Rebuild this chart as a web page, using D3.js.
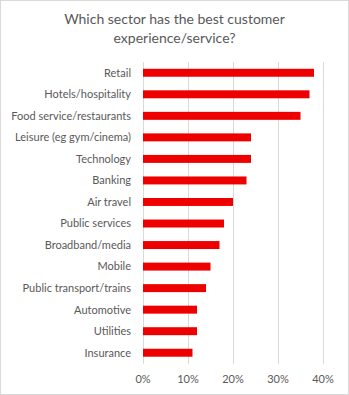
<!DOCTYPE html>
<html><head><meta charset="utf-8">
<script src="https://cdn.jsdelivr.net/npm/d3@7"></script>
<style>body{margin:0;background:#fff}svg{display:block}</style>
</head><body>
<script>
const categories = ["Retail","Hotels/hospitality","Food service/restaurants","Leisure (eg gym/cinema)","Technology","Banking","Air travel","Public services","Broadband/media","Mobile","Public transport/trains","Automotive","Utilities","Insurance"];
const values = [0.38,0.37,0.35,0.24,0.24,0.23,0.20,0.18,0.17,0.15,0.14,0.12,0.12,0.11];
const tickValues = [0,0.1,0.2,0.3,0.4];
const titleLines = ["Which sector has the best customer","experience/service?"];

const W=349,H=395;
const svg=d3.select("body").append("svg").attr("width",W).attr("height",H);
svg.append("rect").attr("x",0.5).attr("y",0.5).attr("width",W-1).attr("height",H-1).attr("fill","#fff").attr("stroke","#d9d9d9");
const font="Lato, 'Open Sans', sans-serif";
const x=d3.scaleLinear().domain([0,0.4]).range([143,323]);
const y=d3.scaleBand().domain(categories).range([62,363.5]).paddingInner(0.63).paddingOuter(0.315);

svg.append("g").selectAll("line").data(tickValues).join("line")
 .attr("x1",d=>Math.round(x(d))+0.5).attr("x2",d=>Math.round(x(d))+0.5)
 .attr("y1",62).attr("y2",364).attr("stroke","#d9d9d9").attr("stroke-width",1);

svg.append("g").selectAll("rect").data(categories).join("rect")
 .attr("x",x(0)).attr("y",d=>y(d)).attr("height",y.bandwidth())
 .attr("width",(d,i)=>x(values[i])-x(0)).attr("fill","#ee0000");

svg.append("g").selectAll("text").data(categories).join("text")
 .attr("x",131).attr("y",d=>y(d)+y.bandwidth()/2).attr("dy","0.35em")
 .attr("text-anchor","end").attr("font-family",font).attr("font-size",11).attr("fill","#595959").text(d=>d);

svg.append("g").selectAll("text").data(tickValues).join("text")
 .attr("x",d=>x(d)).attr("y",379).attr("dy","0.35em").attr("text-anchor","middle")
 .attr("font-family",font).attr("font-size",11).attr("fill","#595959").text(d=>d3.format(".0%")(d));

svg.append("g").selectAll("text").data(titleLines).join("text")
 .attr("x",174.5).attr("y",(d,i)=>19+i*19).attr("dy","0.35em").attr("text-anchor","middle")
 .attr("font-family",font).attr("font-size",14).attr("fill","#595959").text(d=>d);
</script>
</body></html>
